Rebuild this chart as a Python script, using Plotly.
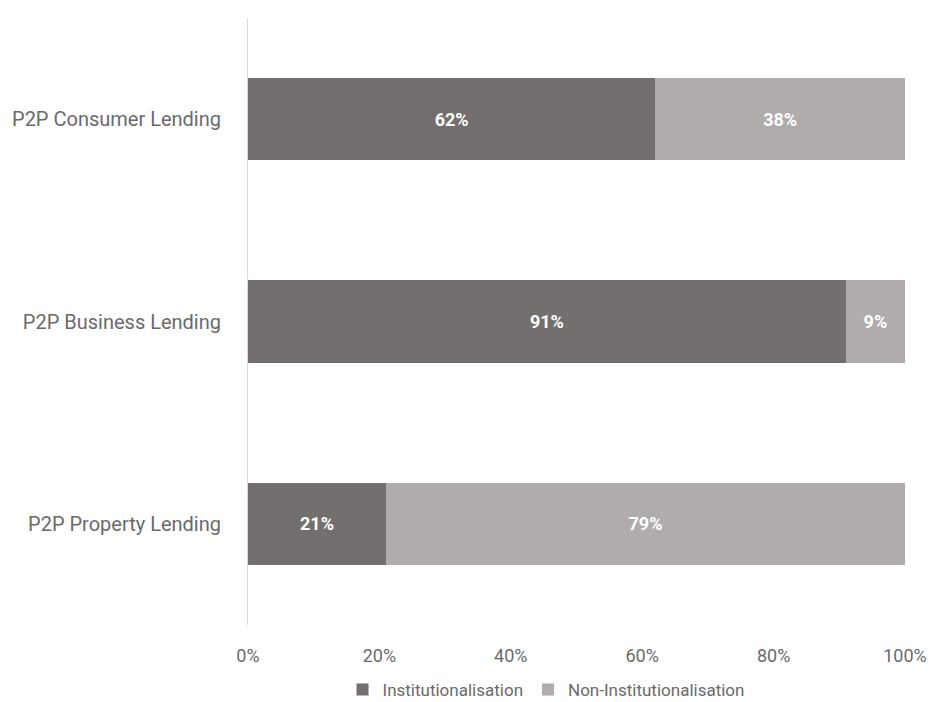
import plotly.graph_objects as go

categories = ["P2P Consumer Lending", "P2P Business Lending", "P2P Property Lending"]
institutional = [62, 91, 21]
non_institutional = [38, 9, 79]
series_names = ["Institutionalisation", "Non-Institutionalisation"]
tick_vals = [0, 20, 40, 60, 80, 100]
tick_text = ["0%", "20%", "40%", "60%", "80%", "100%"]

colors = ["#736f6e", "#b0acab"]

fig = go.Figure()
for name, vals, col in zip(series_names, [institutional, non_institutional], colors):
    fig.add_trace(go.Bar(
        y=categories, x=vals, name=name, orientation="h",
        marker=dict(color=col, line=dict(width=0)),
        text=[f"{v}%" for v in vals], textposition="inside",
        insidetextanchor="middle",
        textfont=dict(color="white", size=18, family="Roboto", weight="bold"),
        hoverinfo="skip",
    ))

fig.update_layout(
    barmode="stack", bargap=0.594,
    width=930, height=702,
    margin=dict(l=248, r=25, t=18, b=77),
    plot_bgcolor="white", paper_bgcolor="white",
    font=dict(family="Roboto", color="#6a6a6a", size=20),
    showlegend=True,
    legend=dict(orientation="h", x=0.4536, xanchor="center", yref="container",
                y=0.0171, yanchor="middle",
                font=dict(size=17, color="#6a6a6a"), itemwidth=30, traceorder="normal"),
    xaxis=dict(range=[0, 100], tickvals=tick_vals, ticktext=tick_text, showgrid=False,
               zeroline=False, showline=False, ticks="", ticklabelstandoff=18,
               automargin=False, ticklabeloverflow="allow",
               tickfont=dict(size=18, color="#6a6a6a")),
    yaxis=dict(autorange="reversed", showline=True, linecolor="#d9d9d9", linewidth=1,
               ticks="", ticklabelstandoff=22, automargin=False,
               tickfont=dict(size=20, color="#6a6a6a")),
)

fig.write_html("out.html",
               config={"displayModeBar": False},
               post_script="document.body.style.margin='0';document.body.style.overflow='hidden';")
